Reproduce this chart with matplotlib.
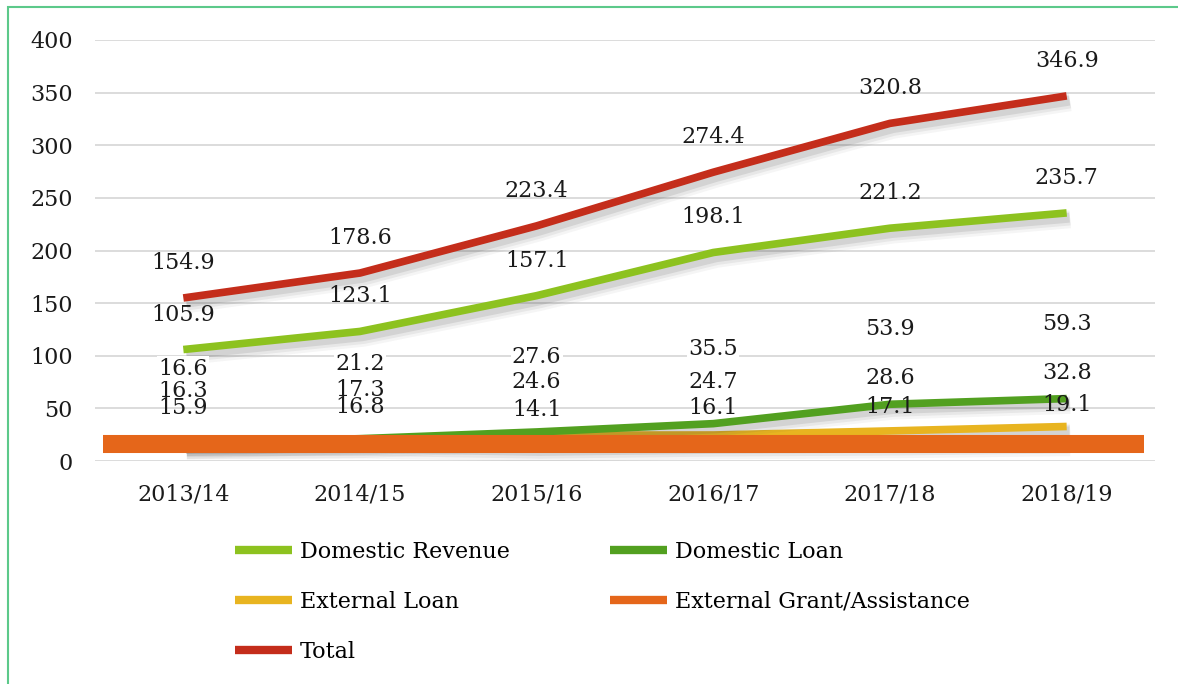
import matplotlib
matplotlib.use("Agg")
import matplotlib.pyplot as plt
import matplotlib.patheffects as pe
import numpy as np
from matplotlib.patches import Rectangle

years = ["2013/14", "2014/15", "2015/16", "2016/17", "2017/18", "2018/19"]
domestic_revenue = [105.9, 123.1, 157.1, 198.1, 221.2, 235.7]
domestic_loan = [16.6, 21.2, 27.6, 35.5, 53.9, 59.3]
external_loan = [16.3, 17.3, 24.6, 24.7, 28.6, 32.8]
external_grant = [15.9, 16.8, 14.1, 16.1, 17.1, 19.1]
total = [154.9, 178.6, 223.4, 274.4, 320.8, 346.9]

plt.rcParams["font.family"] = ["DejaVu Serif"]
plt.rcParams["font.size"] = 16

fig = plt.figure(figsize=(11.78, 6.84), dpi=100)
ax = fig.add_axes([95 / 1178, 1 - 461 / 684, 1060 / 1178, 421 / 684])

x = np.arange(len(years))
# soft drop shadow: a few widening, faint copies below-right of each line
shadow = [pe.SimpleLineShadow(offset=(2.5, -4.5), shadow_color="#444444", alpha=0.05, linewidth=13),
          pe.SimpleLineShadow(offset=(2.5, -4), shadow_color="#444444", alpha=0.08, linewidth=10),
          pe.SimpleLineShadow(offset=(2, -3.5), shadow_color="#444444", alpha=0.12, linewidth=7),
          pe.Normal()]

# (values, name, colour, label offset in px, label zorder, white box)
series = [
    (domestic_revenue, "Domestic Revenue", "#8dc21f", 35, 5, False),
    (domestic_loan, "Domestic Loan", "#52a020", 75, 5.2, True),
    (external_loan, "External Loan", "#e8b420", 53, 5, False),
    (external_grant, "External Grant/Assistance", "#e5661a", 36, 5.1, False),
    (total, "Total", "#c42d1b", 35, 5, False),
]
line_z = {"Domestic Revenue": 3.3, "Domestic Loan": 3.2, "External Loan": 3.1,
          "External Grant/Assistance": 3.0, "Total": 3.4}

handles = {}
for vals, name, col, off, lz, boxed in series:
    ln, = ax.plot(x, vals, color=col, lw=5.5, solid_capstyle="butt",
                  zorder=line_z[name], path_effects=shadow, label=name)
    handles[name] = ln
    for xi, v in zip(x, vals):
        kw = {}
        if boxed:
            kw["bbox"] = dict(boxstyle="square,pad=0.05", fc="white", ec="none")
        ax.annotate(f"{v:.1f}", (xi, v), xytext=(0, off), textcoords="offset pixels",
                    ha="center", va="center", color="#1a1a1a", zorder=lz, **kw)

# external grant drawn as a wide flat band across the plot
ax.axhline(np.mean(external_grant), xmin=0.008, xmax=0.99, color="#e5661a",
           lw=13, zorder=3.9, solid_capstyle="butt")

ax.set_xlim(-0.5, len(years) - 0.5)
ax.set_ylim(0, 400)
ax.set_yticks(range(0, 401, 50))
ax.set_xticks(x)
ax.set_xticklabels(years)
ax.grid(axis="y", color="#d9d9d9", lw=1.3, zorder=0)
ax.set_axisbelow(True)
for s in ax.spines.values():
    s.set_visible(False)
ax.tick_params(axis="y", length=0, pad=16, colors="#1a1a1a")
ax.tick_params(axis="x", length=0, pad=16, colors="#1a1a1a")

order = ["Domestic Revenue", "External Loan", "Total", "Domestic Loan", "External Grant/Assistance"]
leg = fig.legend([handles[n] for n in order], order, loc="upper left",
                 bbox_to_anchor=(235 / 1178, 1 - 541 / 684), ncol=2, frameon=False,
                 borderpad=0, borderaxespad=0, handlelength=2.55, handletextpad=0.38,
                 labelspacing=1.25, columnspacing=4.5)
for h in leg.legend_handles:
    h.set_path_effects([])
    h.set_linewidth(6)

# thin green frame around the figure
fig.patches.append(Rectangle((8 / 1178, -0.1), 1.2, 1 - 7 / 684 + 0.1, transform=fig.transFigure,
                             fill=False, ec="#5cc98a", lw=1.5, clip_on=False))

fig.savefig("out.png", dpi=100, facecolor="white")
